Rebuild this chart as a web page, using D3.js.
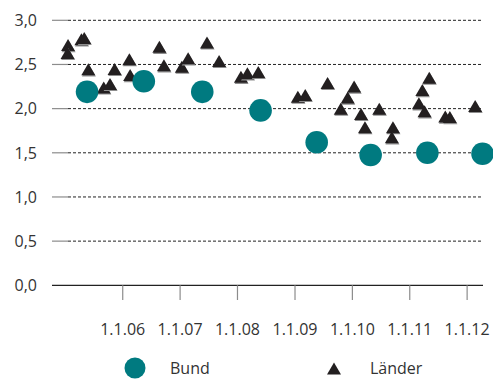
<!DOCTYPE html>
<html>
<head>
<meta charset="utf-8">
<script src="https://cdnjs.cloudflare.com/ajax/libs/d3/7.8.5/d3.min.js"></script>
<style>
  body { margin: 0; background: #fff; }
  svg text { font-family: "Open Sans", sans-serif; fill: #333; }
</style>
</head>
<body>
<div id="chart"></div>
<script>
// Bund (circles)
var bundDates = ["2005-05-19","2006-05-15","2007-05-22","2008-05-27","2009-05-19","2010-04-27","2011-04-23","2012-04-08"];
var bundValues = [2.19, 2.31, 2.19, 1.98, 1.62, 1.475, 1.50, 1.49];

// Länder (triangles)
var laenderDates = [
    "2005-01-18","2005-01-15","2005-04-13","2005-05-01","2005-05-27","2005-09-02","2005-10-12","2005-11-10",
    "2006-02-12","2006-02-17","2006-08-22","2006-09-20","2007-01-12","2007-02-21","2007-06-21","2007-09-06",
    "2008-01-23","2008-03-04","2008-05-12","2009-01-19","2009-03-07","2009-07-27","2010-01-12","2009-12-02",
    "2009-10-19","2010-02-25","2010-03-22","2010-06-21","2010-09-16","2010-09-09","2011-05-05","2011-03-22",
    "2011-02-28","2011-04-05","2011-08-15","2011-09-13","2012-02-21"
];
var laenderValues = [
    2.72, 2.63, 2.785, 2.80, 2.445, 2.24, 2.28, 2.45,
    2.56, 2.38, 2.70, 2.49, 2.475, 2.57, 2.75, 2.54,
    2.36, 2.40, 2.415, 2.135, 2.155, 2.29, 2.25, 2.125,
    2.00, 1.94, 1.79, 2.00, 1.79, 1.675, 2.35, 2.21,
    2.06, 1.97, 1.91, 1.905, 2.03
];

var yTicks = [0, 0.5, 1, 1.5, 2, 2.5, 3];
var xTickYears = [2006, 2007, 2008, 2009, 2010, 2011, 2012];
var legendLabels = ["Bund", "Länder"];

var W = 493, H = 379;
var teal = "#007a80", dark = "#231f20";
var parse = d3.timeParse("%Y-%m-%d");
var fmtNum = function(d){ return d3.format(".1f")(d).replace(".", ","); };
var fmtDate = d3.timeFormat("1.1.%y");

var x = d3.scaleTime()
    .domain([parse("2004-10-08"), parse("2012-04-11")])
    .range([52, 483]);
var y = d3.scaleLinear().domain([0, 3]).range([285.3, 20.3]);

var svg = d3.select("#chart").append("svg")
    .attr("width", W).attr("height", H);

// grid lines: short solid stub + dashed line
var grid = svg.append("g").attr("class", "grid");
grid.selectAll("line.stub").data(yTicks.filter(function(d){ return d > 0; }))
    .enter().append("line").attr("class", "stub")
    .attr("x1", 52).attr("x2", 68)
    .attr("y1", function(d){ return y(d); }).attr("y2", function(d){ return y(d); })
    .style("stroke", "#8c8c8c").style("stroke-width", 1.2);
grid.selectAll("line.dash").data(yTicks.filter(function(d){ return d > 0; }))
    .enter().append("line").attr("class", "dash")
    .attr("x1", 68).attr("x2", 483)
    .attr("y1", function(d){ return y(d); }).attr("y2", function(d){ return y(d); })
    .style("stroke", "#222").style("stroke-width", 1)
    .style("stroke-dasharray", "3,2");

// baseline
svg.append("line")
    .attr("x1", 52).attr("x2", 483)
    .attr("y1", y(0)).attr("y2", y(0))
    .style("stroke", "#222").style("stroke-width", 1.2);

// y labels
svg.selectAll("text.ylab").data(yTicks).enter().append("text")
    .attr("class", "ylab")
    .attr("x", 37).attr("y", function(d){ return y(d); })
    .attr("dy", "0.36em")
    .style("text-anchor", "end").style("font-size", "16px")
    .text(fmtNum);

// x ticks + labels
var xTickDates = xTickYears.map(function(yr){ return new Date(yr, 0, 1); });
svg.selectAll("line.xtick").data(xTickDates).enter().append("line")
    .attr("class", "xtick")
    .attr("x1", function(d){ return x(d); }).attr("x2", function(d){ return x(d); })
    .attr("y1", y(0)).attr("y2", 300)
    .style("stroke", "#8c8c8c").style("stroke-width", 1.2);
svg.selectAll("text.xlab").data(xTickDates).enter().append("text")
    .attr("class", "xlab")
    .attr("x", function(d){ return x(d); }).attr("y", 335)
    .style("text-anchor", "middle").style("font-size", "16px")
    .text(fmtDate);

// triangle helper
var tri = function(cx, cy, w, h){
    return "M" + cx + "," + (cy - h/2) + "L" + (cx + w/2) + "," + (cy + h/2) +
        "L" + (cx - w/2) + "," + (cy + h/2) + "Z";
};

var laender = laenderDates.map(function(d, i){ return {date: parse(d), value: laenderValues[i]}; });
var bund = bundDates.map(function(d, i){ return {date: parse(d), value: bundValues[i]}; });

var gT = svg.append("g").attr("class", "laender");
laender.forEach(function(d){
    var cx = x(d.date), cy = y(d.value);
    gT.append("path").attr("d", tri(cx + 0.6, cy + 1.1, 14, 12)).style("fill", "#8e8e8e");
    gT.append("path").attr("d", tri(cx, cy, 14, 12)).style("fill", dark);
});

svg.append("g").attr("class", "bund").selectAll("circle").data(bund).enter()
    .append("circle")
    .attr("cx", function(d){ return x(d.date); })
    .attr("cy", function(d){ return y(d.value); })
    .attr("r", 11.3)
    .style("fill", teal);

// legend
var lg = svg.append("g").attr("class", "legend");
lg.append("circle").attr("cx", 135).attr("cy", 368).attr("r", 10.5).style("fill", teal);
lg.append("text").attr("x", 170).attr("y", 374).style("font-size", "16px").text(legendLabels[0]);
lg.append("path").attr("d", tri(334, 368.5, 14, 12)).style("fill", dark);
lg.append("text").attr("x", 370).attr("y", 374).style("font-size", "16px").text(legendLabels[1]);
</script>
</body>
</html>
